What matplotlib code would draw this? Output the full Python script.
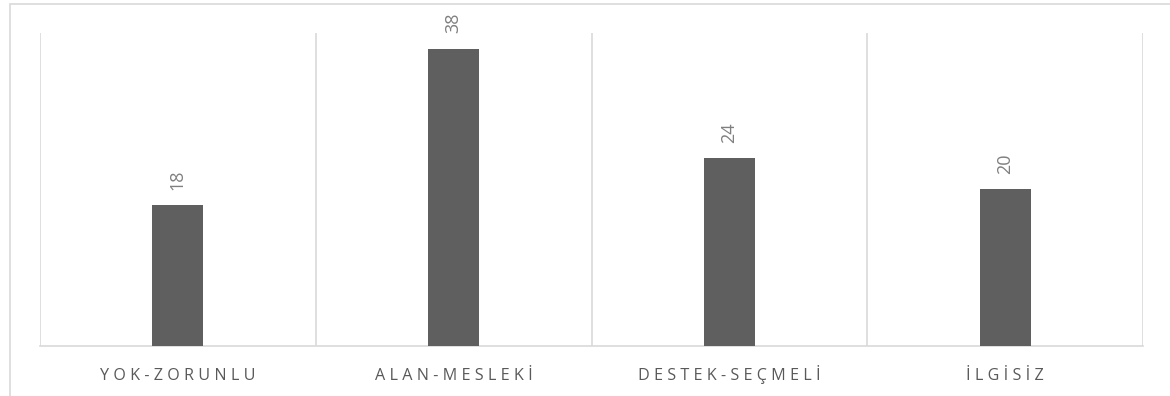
import matplotlib.pyplot as plt
from matplotlib.patches import Rectangle

# chart data
categories = ["YOK-ZORUNLU", "ALAN-MESLEKİ", "DESTEK-SEÇMELİ", "İLGİSİZ"]
values = [18, 38, 24, 20]

W, H = 1170, 396
fig = plt.figure(figsize=(W / 100, H / 100), dpi=100)

# outer chart border (only left and top are inside the picture)
fig.patches.append(Rectangle((10 / W, -0.1), 1.2, 1 - 4 / H + 0.1,
                             transform=fig.transFigure, fill=False,
                             edgecolor="#d9d9d9", linewidth=1.2))

ax = fig.add_axes([40 / W, 50 / H, (1143 - 40) / W, (346 - 33) / H])

x = list(range(len(categories)))
bars = ax.bar(x, values, width=0.185, color="#5f5f5f", zorder=3)

ax.set_xlim(-0.5, len(categories) - 0.5)
ax.set_ylim(0, 40)

# vertical gridlines between categories
for b in [i - 0.5 for i in range(len(categories) + 1)]:
    ax.axvline(b, color="#d9d9d9", linewidth=1.2, zorder=1)

for s in ["top", "right", "left"]:
    ax.spines[s].set_visible(False)
ax.spines["bottom"].set_color("#d9d9d9")
ax.spines["bottom"].set_linewidth(1.2)
ax.set_yticks([])
ax.set_xticks([])

# category labels, letter spaced, aligned on one baseline
for xi, c in zip(x, categories):
    ax.annotate(" ".join(c), (xi, 0), xycoords=("data", "axes fraction"),
                xytext=(0, -24.5), textcoords="offset points",
                ha="center", va="baseline", fontsize=11.6, color="#595959",
                family="Open Sans")

for rect, v in zip(bars, values):
    ax.annotate(str(v), (rect.get_x() + rect.get_width() / 2, rect.get_height()),
                xytext=(0, 11), textcoords="offset points", rotation=90,
                ha="center", va="bottom", fontsize=13, color="#7f7f7f",
                family="Open Sans")

plt.savefig("out.png", dpi=100)
